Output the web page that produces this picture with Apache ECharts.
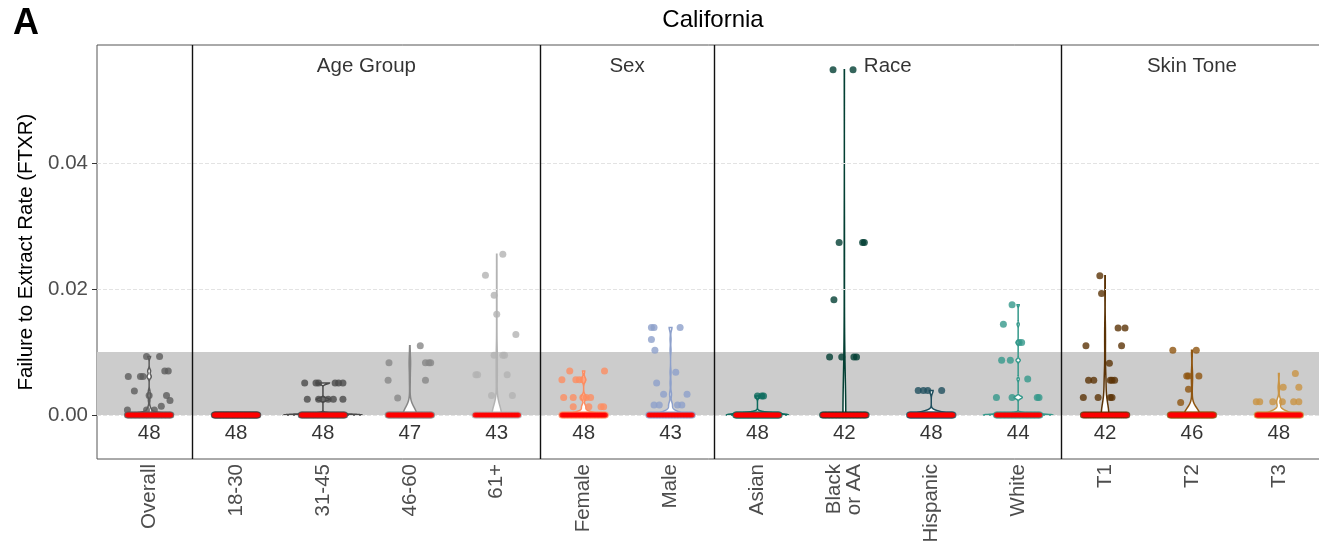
<!DOCTYPE html>
<html><head><meta charset="utf-8">
<script src="https://cdn.jsdelivr.net/npm/echarts@6/dist/echarts.min.js"></script>
<style>html,body{margin:0;padding:0;background:#fff}#c{width:1319px;height:548px}</style>
</head><body><div id="c"></div><script>
// ---------- data ----------
const categories = ['Overall','18-30','31-45','46-60','61+','Female','Male','Asian','Black\nor AA','Hispanic','White','T1','T2','T3'];
const counts = [48,48,48,47,43,48,43,48,42,48,44,42,46,48];
// non-zero FTXR values per category (all remaining observations are 0)
const nonzeroValues = [
  [0.0093,0.0093,0.0061,0.0061,0.0061,0.0070,0.0070,0.0038,0.0031,0.0031,0.0023,0.0014,0.0008,0.0008,0.0008],
  [],
  [0.0051,0.0051,0.0051,0.0051,0.0051,0.0051,0.0025,0.0025,0.0025,0.0025,0.0025,0.0025],
  [0.0110,0.0083,0.0083,0.0083,0.0083,0.0055,0.0055,0.0027],
  [0.0255,0.0222,0.0190,0.0160,0.0128,0.0095,0.0095,0.0095,0.0064,0.0064,0.0064,0.0031,0.0031],
  [0.0070,0.0070,0.0056,0.0056,0.0056,0.0056,0.0028,0.0028,0.0028,0.0028,0.0028,0.0013,0.0013,0.0013,0.0013],
  [0.0139,0.0139,0.0139,0.0120,0.0103,0.0068,0.0051,0.0033,0.0033,0.0016,0.0016,0.0016,0.0016],
  [0.0030,0.0030,0.0030],
  [0.0548,0.0548,0.0274,0.0274,0.0274,0.0183,0.0092,0.0092,0.0092,0.0092],
  [0.0039,0.0039,0.0039,0.0039],
  [0.0175,0.0144,0.0115,0.0115,0.0087,0.0087,0.0057,0.0028,0.0028,0.0028,0.0028],
  [0.0221,0.0193,0.0138,0.0138,0.0110,0.0110,0.0082,0.0055,0.0055,0.0055,0.0055,0.0055,0.0028,0.0028,0.0028,0.0028],
  [0.0103,0.0103,0.0062,0.0062,0.0062,0.0041,0.0020],
  [0.0066,0.0044,0.0044,0.0021,0.0021,0.0021,0.0021,0.0021,0.0021]
];
// horizontal jitter of the non-zero points (category units)
const jitter = [
  [-0.03,0.12,-0.24,-0.10,-0.07,0.18,0.22,-0.17,0.00,0.20,0.24,0.14,-0.25,-0.03,0.06],
  [],
  [-0.21,-0.08,-0.05,0.14,0.18,0.23,-0.18,-0.05,0.00,0.06,0.12,0.23],
  [0.12,-0.24,0.18,0.22,0.24,-0.25,0.18,-0.14],
  [0.07,-0.13,-0.03,0.00,0.22,-0.03,0.07,0.09,-0.24,-0.22,0.12,-0.06,0.18],
  [-0.16,0.24,-0.25,-0.09,-0.05,-0.01,-0.23,-0.12,-0.01,0.03,0.08,-0.12,0.06,0.20,0.23],
  [-0.22,-0.19,0.11,-0.22,-0.18,0.06,-0.16,-0.08,0.19,-0.19,-0.13,0.08,0.13],
  [0.00,0.05,0.07],
  [-0.13,0.10,-0.06,0.21,0.23,-0.12,-0.17,-0.03,0.11,0.14],
  [-0.15,-0.09,-0.04,0.12],
  [-0.07,-0.17,0.01,0.04,-0.19,-0.09,0.11,-0.25,-0.07,0.22,0.24],
  [-0.06,-0.04,0.15,0.23,-0.22,0.19,0.05,-0.19,-0.13,0.06,0.08,0.11,-0.25,-0.08,0.06,0.08],
  [-0.22,0.05,-0.06,-0.04,0.08,-0.04,-0.13],
  [0.19,0.05,0.23,-0.26,-0.22,-0.07,0.04,0.17,0.23]
];
const colors = ['#5c5c5c','#3a3a3a','#4a4a4a','#878787','#b3b3b3','#fc8d62','#8da0cb','#0d6b5e','#033f33','#1f4f5e','#35998b','#5b3306','#8f5510','#c99444'];
const facetNames = ['Age Group','Sex','Race','Skin Tone'];
const facetCenters = [2.5,5.5,8.5,12];
const separators = [0.5,4.5,6.5,10.5];
const yTicks = [0,0.02,0.04];
const band = [0,0.01];

// ---------- violin densities (gaussian KDE, bw.nrd0, trimmed, area-scaled) ----------
function quantile(s,p){const h=(s.length-1)*p,lo=Math.floor(h),hi=Math.min(lo+1,s.length-1);return s[lo]+(h-lo)*(s[hi]-s[lo]);}
function bwNrd0(x){
  const n=x.length,m=x.reduce((a,b)=>a+b,0)/n;
  const sd=Math.sqrt(x.reduce((a,b)=>a+(b-m)*(b-m),0)/(n-1));
  const s=[...x].sort((a,b)=>a-b);
  let lo=Math.min(sd,(quantile(s,0.75)-quantile(s,0.25))/1.34);
  if(!lo){lo=sd||Math.abs(x[0])||1;}
  return 0.9*lo*Math.pow(n,-0.2);
}
const dens = categories.map((c,i)=>{
  const zeros = counts[i]-nonzeroValues[i].length;
  const all = new Array(zeros).fill(0).concat(nonzeroValues[i]);
  const mn=Math.min(...all), mx=Math.max(...all);
  if(mx<=mn) return null;
  const bw=bwNrd0(all), n=all.length, pts=[];
  for(let k=0;k<512;k++){
    const t=mn+(mx-mn)*k/511; let d=0;
    for(const v of all){const z=(t-v)/bw;d+=Math.exp(-0.5*z*z);}
    pts.push([t,d/(n*bw*Math.sqrt(2*Math.PI))]);
  }
  return pts;
});
let maxD=0; dens.forEach(p=>{if(p)p.forEach(q=>{if(q[1]>maxD)maxD=q[1];});});
const violins = dens.map(p=>p?p.map(q=>[q[0],q[1]/maxD*0.45]):null);

// ---------- series data ----------
const ptsData=[], zeroData=[], redData=[];
categories.forEach((c,i)=>{
  nonzeroValues[i].forEach((v,k)=>ptsData.push({value:[i+jitter[i][k],v],itemStyle:{color:colors[i]}}));
  const z=counts[i]-nonzeroValues[i].length;
  for(let k=0;k<z;k++){
    const x=i-0.25+0.5*k/(z-1);
    zeroData.push({value:[x,0],itemStyle:{color:colors[i]}});
    redData.push([x,0]);
  }
});

const FONT='"Liberation Sans", Arial, sans-serif';
const chart = echarts.init(document.getElementById('c'));
chart.setOption({
  animation:false,
  textStyle:{fontFamily:FONT},
  grid:{left:97,top:45,width:1234,height:414,show:true,borderColor:'#555',borderWidth:1,backgroundColor:'transparent',
    containLabel:false,outerBoundsMode:'none'},
  xAxis:{type:'value',min:-0.6,max:13.6,
    axisLine:{show:false,onZero:false},axisTick:{show:false},splitLine:{show:false},
    axisLabel:{customValues:categories.map((c,i)=>i),formatter:v=>categories[Math.round(v)],rotate:90,
      fontSize:20.5,color:'#4d4d4d',margin:5,fontFamily:FONT,lineHeight:20}},
  yAxis:{type:'value',min:-0.00698,max:0.05873,
    axisLine:{show:false,onZero:false},splitLine:{show:false},
    axisTick:{show:true,customValues:yTicks,length:5,lineStyle:{color:'#333'}},
    axisLabel:{customValues:yTicks,formatter:v=>v.toFixed(2),fontSize:20.5,color:'#4d4d4d',margin:9,fontFamily:FONT},
    name:'Failure to Extract Rate (FTXR)',nameLocation:'middle',nameGap:50,
    nameTextStyle:{fontSize:20.5,color:'#000',fontFamily:FONT}},
  graphic:[
    {type:'text',x:713,y:20,style:{text:'California',fontSize:24,fill:'#000',textAlign:'center',textVerticalAlign:'middle',fontFamily:FONT}},
    {type:'text',x:13,y:24,style:{text:'A',fontSize:36,fontWeight:'bold',fill:'#000',textAlign:'left',textVerticalAlign:'middle',fontFamily:FONT}}
  ],
  series:[
    {type:'scatter',z:1,silent:true,symbolSize:0,data:[[0,0]],
      markArea:{silent:true,itemStyle:{color:'#cccccc'},data:[[{yAxis:band[0]},{yAxis:band[1]}]]},
      markLine:{silent:true,symbol:'none',label:{show:false},lineStyle:{type:'dashed',color:'#e3e3e3',width:1},
        data:yTicks.map(v=>({yAxis:v}))}},
    {type:'custom',z:3,silent:true,data:categories.map((c,i)=>[i,0]),encode:{x:0,y:1},
      renderItem:(params,api)=>{
        const i=api.value(0), v=violins[i];
        if(!v) return null;
        const right=v.map(q=>api.coord([i+q[1],q[0]]));
        const left=v.slice().reverse().map(q=>api.coord([i-q[1],q[0]]));
        return {type:'polygon',shape:{points:right.concat(left)},style:{fill:'#fff',stroke:colors[i],lineWidth:1.5}};
      }},
    {type:'scatter',z:4,silent:true,symbolSize:7,data:ptsData},
    {type:'scatter',z:5,silent:true,symbolSize:7,data:zeroData},
    {type:'scatter',z:6,silent:true,symbolSize:5,itemStyle:{color:'#ff0000'},data:redData},
    {type:'scatter',z:7,silent:true,symbolSize:0,data:categories.map((c,i)=>[i,-0.00286]),
      label:{show:true,position:'inside',formatter:p=>String(counts[p.dataIndex]),fontSize:20.5,color:'#000',fontFamily:FONT}},
    {type:'scatter',z:7,silent:true,symbolSize:0,data:facetCenters.map(c=>[c,0.0553]),
      label:{show:true,position:'inside',formatter:p=>facetNames[p.dataIndex],fontSize:20.5,color:'#000',fontFamily:FONT}},
    {type:'scatter',z:8,silent:true,symbolSize:0,data:[[0,0]],
      markLine:{silent:true,symbol:'none',label:{show:false},lineStyle:{type:'solid',color:'#111',width:1.4},
        data:separators.map(v=>({xAxis:v}))}}
  ]
});
</script></body></html>
